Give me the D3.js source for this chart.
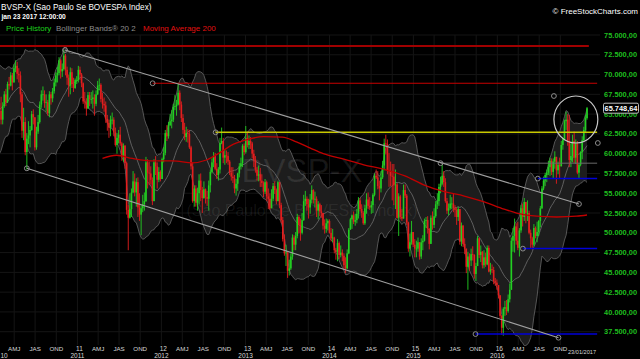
<!DOCTYPE html>
<html><head><meta charset="utf-8">
<script src="https://cdn.jsdelivr.net/npm/d3@7/dist/d3.min.js"></script>
<style>html,body{margin:0;padding:0;background:#000;overflow:hidden}svg{display:block}</style>
</head><body><svg id="c" width="640" height="359"></svg>
<script>
// Weekly BOVESPA bars (thousands of points), first bar = week of 2009-08-24
const firstWeek = "2009-08-24";
const closes = [
57.8,58.6,59.9,61.6,61.0,61.5,63.3,66.0,63.2,61.5,63.6,65.9,66.6,65.6,67.3,68.2,68.4,68.2,68.6,
70.4,69.2,66.4,65.4,64.3,66.0,67.5,66.5,68.8,68.6,69.9,69.0,70.8,71.1,70.1,69.9,67.5,62.9,64.0,60.2,61.9,62.3,63.0,65.0,64.6,60.8,62.8,64.0,66.2,67.5,67.5,66.4,66.5,65.1,67.5,67.0,67.9,69.0,69.9,70.2,71.8,70.4,70.7,72.4,70.6,69.6,68.6,70.3,68.8,68.3,69.3,69.3,
70.6,70.0,68.9,66.6,66.5,65.7,67.4,66.9,66.9,67.1,66.3,67.5,68.6,68.7,66.9,66.3,66.1,64.4,63.9,63.3,64.3,64.3,62.7,61.1,62.0,62.4,61.3,59.6,61.0,58.8,52.9,51.9,53.0,55.1,56.5,55.1,56.4,53.2,52.3,53.1,53.6,54.0,58.9,57.6,57.5,56.7,54.0,58.9,58.4,56.7,57.7,56.8,
59.3,60.1,62.6,62.2,63.6,64.1,64.3,65.9,66.0,66.2,67.7,66.2,64.5,63.0,62.1,62.6,62.5,60.8,58.4,54.0,55.6,53.8,55.0,56.6,55.4,54.4,55.5,54.5,54.3,56.0,57.7,58.9,59.7,58.1,57.3,58.0,61.3,61.6,59.5,59.8,59.7,59.0,57.6,57.1,56.9,55.6,56.2,57.5,58.4,58.8,61.0,60.2,62.0,
61.1,61.6,61.3,60.0,59.2,58.0,57.2,57.4,56.6,56.3,55.2,56.4,54.6,54.3,53.1,54.3,55.9,55.4,54.0,56.4,53.5,51.6,49.2,47.4,47.5,45.2,45.5,47.0,49.4,48.5,49.6,52.0,51.0,50.0,51.6,54.0,54.3,53.6,53.2,54.2,55.4,54.2,54.3,52.8,53.6,52.7,52.5,50.9,50.5,51.2,51.5,50.0,
49.3,49.4,47.8,47.6,48.7,47.2,47.5,47.1,45.9,45.5,47.4,50.4,51.7,52.2,51.4,51.6,52.4,54.1,53.0,52.5,51.2,53.1,54.2,53.4,53.2,53.5,54.8,57.2,57.0,55.9,55.6,57.0,58.5,61.3,61.2,57.9,57.8,57.2,57.1,56.0,56.1,51.9,54.6,52.0,51.8,55.4,54.7,51.3,48.0,48.8,50.1,48.5,
48.0,48.0,48.8,47.0,48.8,49.0,51.5,51.6,50.5,48.6,51.9,51.0,52.1,53.6,54.0,55.8,56.2,57.2,56.4,54.0,52.8,53.1,53.7,53.7,53.1,52.9,52.0,53.0,48.9,50.9,48.6,48.0,45.7,47.0,46.5,47.3,47.2,44.8,45.8,49.3,47.2,47.6,45.9,46.9,46.0,48.1,45.1,45.4,45.3,43.9,43.7,43.4,
42.1,39.5,38.0,40.4,40.6,40.1,41.6,42.8,49.0,49.6,50.8,49.0,48.1,50.3,53.1,52.0,53.9,52.5,52.5,50.0,49.3,48.5,50.6,49.6,50.1,51.5,53.1,55.6,56.6,57.3,57.6,58.3,59.1,57.7,59.0,59.6,57.9,58.6,58.4,61.1,61.8,64.1,64.3,61.6,59.2,59.7,61.6,59.5,61.3,57.6,58.6,60.2,
61.7,63.0,64.5,65.75];
const highs = [
58.7,59.2,60.2,62.2,62.0,62.3,63.8,66.5,66.3,65.0,64.1,66.4,67.2,67.0,68.0,68.9,69.1,69.0,69.1,
71.0,70.8,69.5,67.2,67.2,66.5,67.9,68.2,69.1,69.7,70.3,70.2,71.3,71.8,71.6,70.8,70.4,67.8,65.8,64.6,62.6,64.1,63.5,65.4,65.6,64.5,63.4,64.9,66.6,68.0,68.5,68.0,67.5,66.8,67.9,67.8,68.3,69.5,70.3,71.0,72.2,72.0,71.4,73.1,72.6,71.0,70.0,70.9,70.8,69.6,69.5,69.8,
71.1,71.0,70.2,69.0,67.8,67.0,67.8,67.8,67.8,68.0,67.5,68.0,69.2,69.5,68.9,67.7,67.1,66.6,64.9,64.3,64.8,65.2,64.6,63.3,62.6,63.0,63.4,61.5,61.3,61.1,59.0,53.5,55.0,55.6,57.8,57.5,56.9,57.0,55.0,53.5,54.8,55.1,59.6,59.3,59.0,58.4,57.0,59.3,59.7,58.9,58.3,57.9,
59.5,60.8,63.0,63.6,64.0,65.0,65.5,66.3,67.4,66.8,68.9,68.0,66.6,65.0,63.9,63.4,63.1,63.0,61.0,58.9,56.0,56.0,55.7,57.4,57.5,55.8,56.5,55.6,55.3,56.6,58.0,59.4,60.2,60.1,58.8,58.3,62.0,63.3,62.0,60.5,60.4,60.2,59.2,58.3,58.3,57.3,56.8,57.6,58.8,59.5,61.2,61.3,63.5,
62.8,62.3,62.1,61.5,60.5,59.7,58.3,58.5,58.2,57.4,56.5,56.8,56.6,55.6,55.0,55.5,56.3,56.5,55.6,56.6,56.3,53.8,52.0,49.8,48.5,47.6,46.6,47.4,49.8,49.7,50.1,52.4,52.2,51.8,52.5,54.8,55.3,54.6,54.3,54.9,56.0,55.5,55.2,54.6,54.0,53.8,53.5,52.5,51.7,51.8,51.7,51.7,
50.6,50.5,49.5,48.1,49.2,48.9,48.4,47.9,47.4,46.9,47.9,50.6,51.9,52.3,52.7,52.4,53.0,54.5,54.4,53.6,52.7,53.5,55.0,55.1,54.5,54.0,55.0,57.5,58.0,57.8,56.6,57.8,59.1,61.9,62.4,61.8,60.1,59.0,58.7,58.7,58.0,56.3,55.0,54.8,53.0,56.1,56.1,54.9,51.4,49.9,51.5,50.1,
49.2,49.0,49.4,48.7,49.3,49.7,51.8,52.0,52.1,50.6,52.2,52.7,53.1,54.0,55.0,56.2,57.1,58.6,57.8,56.9,54.4,53.7,54.8,54.5,54.9,53.5,53.2,53.3,52.9,51.3,51.0,49.3,48.0,47.6,47.4,48.0,48.3,47.3,46.2,49.6,49.4,48.4,47.7,47.8,47.5,48.4,48.4,46.2,46.0,45.7,44.3,44.1,
43.4,42.0,39.6,40.6,41.4,41.5,42.2,43.6,49.4,50.6,51.8,51.2,51.4,50.6,53.5,53.7,54.4,53.5,54.1,52.8,50.4,49.5,51.1,50.8,51.4,51.6,53.4,55.9,57.1,57.6,58.0,59.1,59.5,59.4,59.4,60.3,59.4,59.0,59.5,61.6,62.0,64.3,65.3,65.0,64.9,61.3,62.4,62.8,61.8,61.6,58.8,60.3,
62.2,63.4,64.9,65.9];
const lows = [
56.9,55.9,58.4,59.7,59.6,59.9,61.3,63.2,62.9,60.2,61.0,63.5,65.6,63.9,65.5,66.3,67.1,67.8,68.0,
68.6,68.7,66.0,64.9,63.7,63.7,65.8,66.0,66.4,68.1,68.5,68.0,69.5,70.3,69.4,69.0,66.5,62.0,61.7,59.8,58.0,61.2,60.8,62.9,63.7,60.4,60.5,62.5,63.8,65.8,66.7,65.8,65.3,64.8,64.6,66.2,66.5,67.6,68.5,69.0,69.9,69.5,69.7,70.5,69.9,68.7,67.2,67.5,68.3,67.8,68.2,68.8,
69.0,69.3,68.4,66.3,65.7,64.8,65.7,66.0,66.3,65.7,64.8,66.0,67.4,68.0,66.5,65.7,65.3,63.9,62.9,62.0,62.2,63.7,62.2,60.9,60.0,61.3,61.0,59.1,59.0,58.1,52.3,47.8,51.8,52.0,55.0,54.6,53.3,52.0,51.5,49.7,52.6,52.8,53.9,55.6,56.0,56.1,53.5,54.0,57.3,55.6,56.4,56.5,
56.8,58.9,59.8,61.6,61.9,63.5,63.2,64.0,65.5,64.8,66.1,65.5,64.0,62.5,61.7,61.5,61.4,60.6,58.0,53.8,53.3,53.3,52.8,53.6,54.0,52.5,54.3,53.7,53.4,52.8,55.1,57.5,58.3,57.9,56.8,56.6,57.5,61.2,58.8,58.6,58.8,58.6,57.3,56.6,56.3,55.0,54.7,55.3,57.0,58.0,58.3,59.8,60.0,
60.8,60.6,60.6,59.4,58.3,57.6,56.6,56.5,55.8,55.8,54.5,54.9,54.0,53.0,52.9,53.5,54.0,54.9,53.6,54.3,53.1,51.2,48.9,47.1,45.8,44.3,44.6,45.3,46.6,47.8,47.8,49.3,49.9,49.0,49.8,51.5,53.4,52.8,51.8,52.4,53.7,53.7,53.2,52.0,51.7,52.1,51.9,50.4,49.9,50.0,50.3,49.9,
48.9,48.8,47.4,46.6,46.4,46.7,46.9,46.4,45.4,44.9,45.4,47.3,50.4,50.5,51.1,50.9,51.2,51.8,52.7,51.9,51.0,51.0,52.4,53.0,52.9,52.4,52.5,54.6,56.8,55.5,54.1,55.1,56.8,57.9,59.9,57.4,55.8,55.9,54.1,53.5,53.0,51.8,49.6,51.7,51.5,51.8,54.4,51.0,47.6,47.0,48.5,48.2,
46.9,46.9,47.6,46.6,46.7,47.8,48.9,50.6,49.9,47.9,48.6,50.4,50.6,51.9,53.0,53.4,55.0,56.0,55.8,53.8,52.4,52.2,52.9,53.0,52.6,52.0,51.0,51.5,48.5,48.3,48.2,47.3,44.9,42.8,45.2,45.8,46.5,44.2,43.9,45.8,46.8,46.3,45.5,45.5,45.7,45.9,45.0,44.7,44.9,43.5,43.3,42.8,
41.7,39.2,37.1,37.0,39.5,39.6,39.9,41.2,42.8,47.6,47.5,48.5,47.8,47.0,50.0,50.8,51.5,51.2,51.5,49.8,48.0,47.9,48.3,49.3,48.8,49.6,50.7,53.0,55.4,55.9,56.4,57.3,57.2,57.3,56.8,58.1,56.2,57.4,56.9,58.4,60.5,61.7,63.0,61.0,58.3,58.3,58.9,58.8,58.7,57.4,56.8,58.4,
59.3,61.5,62.7,64.3];

// Moving Average 200
const maDates = ["2011-04-20","2011-06-20","2011-08-28","2011-11-25","2012-02-20","2012-05-15","2012-07-15","2012-09-15","2012-11-10","2013-01-15","2013-03-20","2013-06-10","2013-08-10","2013-10-10","2013-12-05","2014-03-05","2014-05-30","2014-08-30","2014-11-25","2015-02-20","2015-05-15","2015-08-10","2015-11-05","2016-01-30","2016-03-25","2016-06-20","2016-09-15","2016-12-10","2017-01-25"];
const maValues = [59.4,59.8,59.4,59.1,59.1,58.85,59.2,60.2,61.2,61.85,62.15,62.1,61.5,60.7,60.0,59.3,58.6,58.0,57.2,56.0,55.2,54.65,53.9,53.0,52.5,52.1,52.0,52.1,52.25];

// Axis ticks
const yTicks = [37.5,40,42.5,45,47.5,50,52.5,55,57.5,60,62.5,65,67.5,70,72.5,75];
const years = [2010,2011,2012,2013,2014,2015,2016];
const quarterNames = ["AMJ","JAS","OND"];
const lastPrice = 65.74864;
const lastDateLabel = "23/01/2017";
const firstYearTail = "10";

// Drawn annotations (date, value)
const hLines = [
  {from:"2009-12-01", to:"2017-02-02", v:73.6, color:"#a00000", w:2},
  {from:"2011-11-24", to:"2017-03-10", v:68.9, color:"#c80000", w:1.2},
  {from:"2012-08-24", to:"2017-03-10", v:62.7, color:"#c8c800", w:1.5},
  {from:"2015-04-29", to:"2017-03-10", v:58.8, color:"#6a6a6a", w:1},
  {from:"2016-06-25", to:"2017-03-10", v:56.85, color:"#0000d8", w:1.5},
  {from:"2016-04-21", to:"2017-03-10", v:48.0, color:"#0000d8", w:1.5},
  {from:"2015-09-28", to:"2017-03-10", v:37.2, color:"#0000d8", w:1.5}
];
const trendLines = [
  {d1:"2010-11-08", v1:73.1, d2:"2016-12-21", v2:53.64},
  {d1:"2010-05-26", v1:58.15, d2:"2016-09-23", v2:36.74}
];
const ellipseBox = {d1:"2016-09-03", v1:67.29, d2:"2017-03-13", v2:61.35};
const handles = [["2010-11-08",73.1],["2010-05-26",58.15],["2011-11-24",68.9],["2012-08-24",62.7],["2015-04-29",58.8],["2016-12-21",53.64],["2016-09-23",36.74],["2015-09-28",37.2],["2016-04-21",48.0],["2016-06-25",56.85],["2016-09-03",67.29],["2017-03-13",61.35]];

const parse = d3.timeParse("%Y-%m-%d");
const svg = d3.select("#c");
const FONT = "'Liberation Sans', Arial, sans-serif";
const x = d3.scaleTime().domain([new Date(2010,0,1), new Date(2017,0,1)]).range([-6.5, 581.5]);
const y = d3.scaleLinear().domain([37.5, 75]).range([331.7, 35]);

const start = parse(firstWeek);
const bars = closes.map((c,i)=>({
  date: d3.timeDay.offset(start, 7*i+2),
  o: i>0 ? closes[i-1] : c, c, h: highs[i], l: lows[i]
}));

svg.append("rect").attr("width",640).attr("height",359).attr("fill","#000");
svg.append("defs").append("clipPath").attr("id","plot").append("rect").attr("x",0).attr("y",0).attr("width",602).attr("height",346);

const g = svg.append("g").attr("clip-path","url(#plot)");

// grid
g.append("g").selectAll("line").data(yTicks).join("line")
  .attr("x1",0).attr("x2",600).attr("y1",d=>y(d)).attr("y2",d=>y(d))
  .attr("stroke","#151515").attr("stroke-width",1);
const qDates = [];
years.forEach(yr=>{ for(let m=0;m<12;m+=3) qDates.push(new Date(yr,m,1)); });
g.append("g").selectAll("line").data(qDates).join("line")
  .attr("x1",d=>x(d)).attr("x2",d=>x(d)).attr("y1",35).attr("y2",345)
  .attr("stroke","#151515").attr("stroke-width",1);

// Bollinger bands 20,2
const bb = [];
for (let i=19;i<bars.length;i++){
  const w = closes.slice(i-19,i+1);
  const m = d3.mean(w);
  const sd = Math.sqrt(d3.mean(w, v=>(v-m)*(v-m)));
  bb.push({date:bars[i].date, m, u:m+2*sd, lo:m-2*sd});
}
g.append("path").datum(bb).attr("fill","#1d1d1d")
  .attr("d", d3.area().x(d=>x(d.date)).y0(d=>y(d.lo)).y1(d=>y(d.u)));

// watermark
g.append("text").attr("x",302).attr("y",182).attr("text-anchor","middle")
  .attr("font-family",FONT).attr("font-size",33).attr("fill","#fff").attr("fill-opacity",0.09).text("BVSP-X");
g.append("text").attr("x",302).attr("y",216).attr("text-anchor","middle")
  .attr("font-family",FONT).attr("font-size",16).attr("fill","#fff").attr("fill-opacity",0.08).text("(Sao Paulo Se BOVESPA Index)");

["u","lo"].forEach(k=>{
  g.append("path").datum(bb).attr("fill","none").attr("stroke","#5e5e5e").attr("stroke-width",0.9)
   .attr("d", d3.line().x(d=>x(d.date)).y(d=>y(d[k])));
});
g.append("path").datum(bb).attr("fill","none").attr("stroke","#707070").attr("stroke-width",0.8)
  .attr("d", d3.line().x(d=>x(d.date)).y(d=>y(d.m)));

// candles
const cg = g.append("g");
bars.forEach(b=>{
  const up = b.c >= b.o;
  const col = up ? "#22d022" : "#e41e1e";
  const cx = x(b.date);
  const hi = Math.max(b.h, b.o, b.c), lo = Math.min(b.l, b.o, b.c);
  cg.append("line").attr("x1",cx).attr("x2",cx).attr("y1",y(hi)).attr("y2",y(lo))
    .attr("stroke",col).attr("stroke-width",0.9);
  const y1 = y(Math.max(b.o,b.c)), y2 = y(Math.min(b.o,b.c));
  cg.append("rect").attr("x",cx-0.8).attr("width",1.6).attr("y",y1).attr("height",Math.max(0.8,y2-y1)).attr("fill",col);
});

// MA 200
const ma = maDates.map((d,i)=>({date:parse(d), v:maValues[i]}));
g.append("path").datum(ma).attr("fill","none").attr("stroke","#c00000").attr("stroke-width",1.3)
  .attr("d", d3.line().curve(d3.curveMonotoneX).x(d=>x(d.date)).y(d=>y(d.v)));

// annotations
const ag = svg.append("g");
hLines.forEach(l=>{
  ag.append("line").attr("x1",Math.max(0,x(parse(l.from)))).attr("x2",x(parse(l.to)))
    .attr("y1",y(l.v)).attr("y2",y(l.v)).attr("stroke",l.color).attr("stroke-width",l.w);
});
trendLines.forEach(t=>{
  ag.append("line").attr("x1",x(parse(t.d1))).attr("y1",y(t.v1)).attr("x2",x(parse(t.d2))).attr("y2",y(t.v2))
    .attr("stroke","#a0a0a0").attr("stroke-width",1.1);
});
{
  const x1=x(parse(ellipseBox.d1)), x2=x(parse(ellipseBox.d2)), y1=y(ellipseBox.v1), y2=y(ellipseBox.v2);
  ag.append("ellipse").attr("cx",(x1+x2)/2).attr("cy",(y1+y2)/2).attr("rx",(x2-x1)/2).attr("ry",(y2-y1)/2)
    .attr("fill","none").attr("stroke","#c8c8c8").attr("stroke-width",1.2);
}
ag.selectAll("circle.h").data(handles).join("circle").attr("class","h")
  .attr("cx",d=>x(parse(d[0]))).attr("cy",d=>y(d[1])).attr("r",2.4)
  .attr("fill","none").attr("stroke","#8c8c8c").attr("stroke-width",1);

// y axis labels
const fmt = d3.formatLocale({decimal:",", thousands:".", grouping:[3], currency:["",""]}).format(",.2f");
svg.append("g").selectAll("text").data(yTicks).join("text")
  .attr("x",637).attr("y",d=>y(d)).attr("dy","0.35em").attr("text-anchor","end")
  .attr("font-family",FONT).attr("font-size",7.4).attr("font-weight","bold").attr("fill","#1fbf1f")
  .text(d=>fmt(d*1000));
// last price box
svg.append("rect").attr("x",603.5).attr("y",y(lastPrice)-5).attr("width",35).attr("height",10).attr("rx",1.5)
  .attr("fill","#000").attr("stroke","#bdbdbd").attr("stroke-width",1);
svg.append("text").attr("x",621).attr("y",y(lastPrice)).attr("dy","0.35em").attr("text-anchor","middle")
  .attr("font-family",FONT).attr("font-size",7.4).attr("font-weight","bold").attr("fill","#fff").text(fmt(lastPrice*1000));

// x axis labels
const xg = svg.append("g").attr("font-family",FONT).attr("fill","#d8d8d8").attr("text-anchor","middle");
years.forEach((yr,i)=>{
  const xx = x(new Date(yr,0,1));
  if (i === 0) {
    xg.append("text").attr("x",0.5).attr("y",357.5).attr("font-size",6.5).attr("text-anchor","start").text(firstYearTail);
  } else {
    xg.append("text").attr("x",xx+2).attr("y",351).attr("font-size",6.5).text(String(yr).slice(2));
    xg.append("text").attr("x",xx).attr("y",357.5).attr("font-size",6.5).text(String(yr));
  }
  quarterNames.forEach((q,k)=>{
    xg.append("text").attr("x",x(new Date(yr,3*(k+1),1))).attr("y",351).attr("font-size",6.2).text(q);
  });
});
xg.append("text").attr("x",582).attr("y",353.5).attr("font-size",5.6).text(lastDateLabel);

// header texts
svg.append("text").attr("x",1).attr("y",10).attr("font-family",FONT).attr("font-size",8.2).attr("fill","#fff")
  .text("BVSP-X (Sao Paulo Se BOVESPA Index)");
svg.append("text").attr("x",1.5).attr("y",18.5).attr("font-family",FONT).attr("font-size",6.7).attr("font-weight","bold").attr("fill","#fff")
  .text("jan 23 2017 12:00:00");
const leg = svg.append("text").attr("x",6).attr("y",30.5).attr("font-family",FONT).attr("font-size",8);
leg.append("tspan").attr("fill","#1ed01e").text("Price History");
leg.append("tspan").attr("x",56).attr("fill","#8c8c8c").text("Bollinger Bands® 20 2");
leg.append("tspan").attr("x",143).attr("fill","#e01010").text("Moving Average 200");
svg.append("text").attr("x",638).attr("y",13.5).attr("text-anchor","end").attr("font-family",FONT).attr("font-size",8).attr("fill","#fff")
  .text("© FreeStockCharts.com");
</script></body></html>
